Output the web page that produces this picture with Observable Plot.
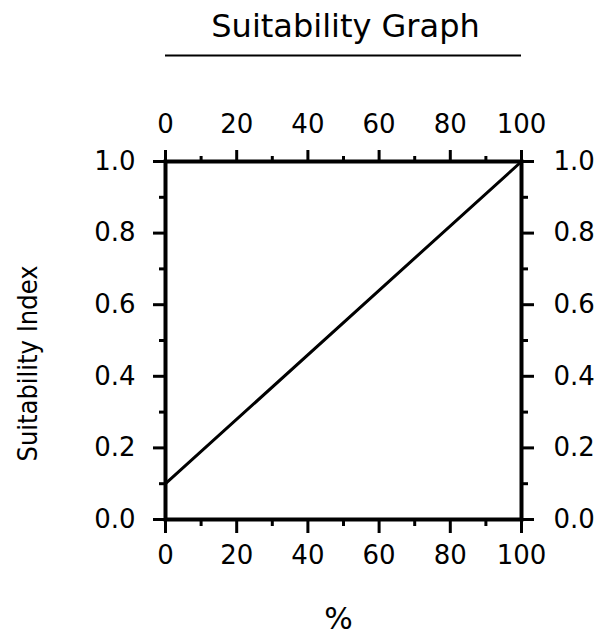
<!DOCTYPE html>
<html>
<head>
<meta charset="utf-8">
<script src="https://cdn.jsdelivr.net/npm/d3@7"></script>
<script src="https://cdn.jsdelivr.net/npm/@observablehq/plot@0.6"></script>
<style>
  html, body { margin: 0; padding: 0; background: #fff; }
</style>
</head>
<body>
<div id="chart"></div>
<script>
const titleText = "Suitability Graph";
const xTitle = "%";
const yTitle = "Suitability Index";
const lineX = [0, 100];
const lineY = [0.1, 1.0];
const xMajor = [0, 20, 40, 60, 80, 100];
const xMinor = [10, 30, 50, 70, 90];
const yMajor = [0, 0.2, 0.4, 0.6, 0.8, 1.0];
const yMinor = [0.1, 0.3, 0.5, 0.7, 0.9];

const lineData = lineX.map((x, i) => ({x, y: lineY[i]}));
const font = "'DejaVu Sans', sans-serif";

const chart = Plot.plot({
  width: 602,
  height: 637,
  marginTop: 161,
  marginBottom: 118,
  marginLeft: 165,
  marginRight: 81,
  style: {fontFamily: font, color: "#000", background: "#fff"},
  x: {domain: [0, 100]},
  y: {domain: [0, 1]},
  marks: [
    Plot.frame({stroke: "#000", strokeWidth: 4}),
    Plot.axisX(xMajor, {anchor: "bottom", tickSize: 14, tickPadding: 12, strokeWidth: 3, fontSize: 26, label: null}),
    Plot.axisX(xMinor, {anchor: "bottom", tickSize: 7, strokeWidth: 3, text: null, label: null}),
    Plot.axisX(xMajor, {anchor: "top", tickSize: 12, tickPadding: 17, strokeWidth: 3, fontSize: 26, label: null}),
    Plot.axisX(xMinor, {anchor: "top", tickSize: 6, strokeWidth: 3, text: null, label: null}),
    Plot.axisY(yMajor, {anchor: "left", tickSize: 12, tickPadding: 18, strokeWidth: 3, fontSize: 26, tickFormat: d3.format(".1f"), label: null}),
    Plot.axisY(yMinor, {anchor: "left", tickSize: 6, strokeWidth: 3, text: null, label: null}),
    Plot.axisY(yMajor, {anchor: "right", tickSize: 12, tickPadding: 20, strokeWidth: 3, fontSize: 26, tickFormat: d3.format(".1f"), label: null}),
    Plot.axisY(yMinor, {anchor: "right", tickSize: 6, strokeWidth: 3, text: null, label: null}),
    Plot.line(lineData, {x: "x", y: "y", stroke: "#000", strokeWidth: 3}),
    Plot.text([titleText], {frameAnchor: "top", lineAnchor: "middle", dy: -135, dx: 2, fontSize: 32, text: d => d}),
    Plot.ruleY([1], {stroke: "#000", strokeWidth: 2, dy: -106}),
    Plot.text([yTitle], {frameAnchor: "left", textAnchor: "middle", lineAnchor: "middle", rotate: -90, dx: -137, dy: 23, fontSize: 27, fontFamily: "'DejaVu Sans Condensed', 'DejaVu Sans', sans-serif", text: d => d}),
    Plot.text([xTitle], {frameAnchor: "bottom", lineAnchor: "middle", dy: 100, dx: -5, fontSize: 30, text: d => d})
  ]
});
document.getElementById("chart").appendChild(chart);
</script>
</body>
</html>
